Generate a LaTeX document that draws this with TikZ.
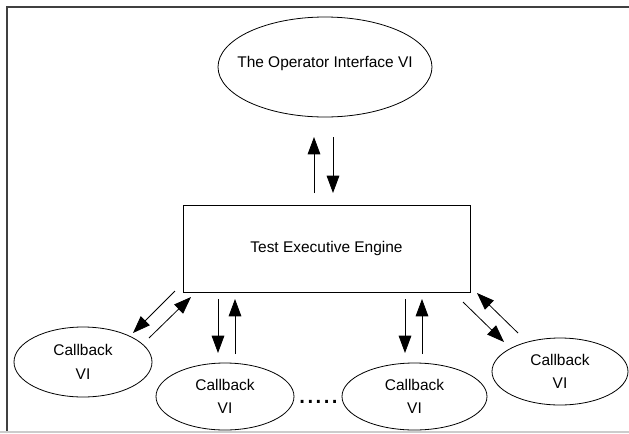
\documentclass[tikz,border=0pt]{standalone}
\usepackage{fontspec}
\setmainfont{Liberation Sans}
\usetikzlibrary{shapes.geometric,arrows.meta}

\begin{document}
\begin{tikzpicture}[x={(0.75pt,0pt)}, y={(0pt,-0.75pt)}]

% styles des noeuds
\tikzstyle{textLine}=[rectangle, text=black, inner sep=0pt, align=center, font=\fontsize{11.6}{17.5}\selectfont]
\tikzstyle{textw}=[rectangle, text=black, inner sep=0pt, font=\fontsize{22}{22}\selectfont]
\tikzstyle{ovalVI}=[ellipse, draw, line width=0.6pt, inner sep=0pt]
\tikzstyle{boxEngine}=[rectangle, draw, line width=0.6pt, inner sep=0pt, minimum width=215.25pt, minimum height=65.25pt]

% styles
\tikzstyle{vector}=[-{Triangle[length=13pt,width=9.5pt]}, line width=0.6pt]

\useasboundingbox (0,0) rectangle (629,433);

% cadre
\draw[black!75, line width=1.1pt] (7,433) -- (7,7) -- (629,7);
\draw[black!20, line width=0.9pt] (0,432) -- (629,432);

% noeuds
\node[ovalVI, minimum width=160.5pt, minimum height=75pt,
  label={[textLine, yshift=3pt]center:The Operator Interface VI}] (iface) at (325,67) {};
\node[boxEngine, label={[textLine]center:Test Executive Engine}] (engine) at (326.5,248.5) {};

\node[ovalVI, minimum width=103.5pt, minimum height=52.5pt,
  label={[textLine]center:Callback\\VI}] (cb1) at (83,362) {};
\node[ovalVI, minimum width=103.5pt, minimum height=50.25pt,
  label={[textLine]center:Callback\\VI}] (cb2) at (225,396.5) {};
\node[ovalVI, minimum width=108.75pt, minimum height=50.25pt,
  label={[textLine]center:Callback\\VI}] (cb3) at (414.5,396.5) {};
\node[ovalVI, minimum width=102pt, minimum height=50.25pt,
  label={[textLine]center:Callback\\VI}] (cb4) at (560,371.5) {};

\node[textw, anchor=base] (dots) at (318.5,403) {.....};

% extremites des fleches
\coordinate (a1) at (314,193);
\coordinate (a2) at (314,137);
\coordinate (a3) at (333,137);
\coordinate (a4) at (333,193);
\coordinate (b1) at (175,291);
\coordinate (b2) at (133,333);
\coordinate (b3) at (149,338);
\coordinate (b4) at (191,297);
\coordinate (c1) at (218,299);
\coordinate (c2) at (218,353);
\coordinate (c3) at (235,354);
\coordinate (c4) at (235,299);
\coordinate (d1) at (405,299);
\coordinate (d2) at (405,353);
\coordinate (d3) at (422,354);
\coordinate (d4) at (422,299);
\coordinate (f1) at (463,302);
\coordinate (f2) at (504,342);
\coordinate (f3) at (518,333);
\coordinate (f4) at (477,293);

% fleches
\draw[vector] (a1) -- (a2);
\draw[vector] (a3) -- (a4);
\draw[vector] (b1) -- (b2);
\draw[vector] (b3) -- (b4);
\draw[vector] (c1) -- (c2);
\draw[vector] (c3) -- (c4);
\draw[vector] (d1) -- (d2);
\draw[vector] (d3) -- (d4);
\draw[vector] (f1) -- (f2);
\draw[vector] (f3) -- (f4);

\end{tikzpicture}
\end{document}
